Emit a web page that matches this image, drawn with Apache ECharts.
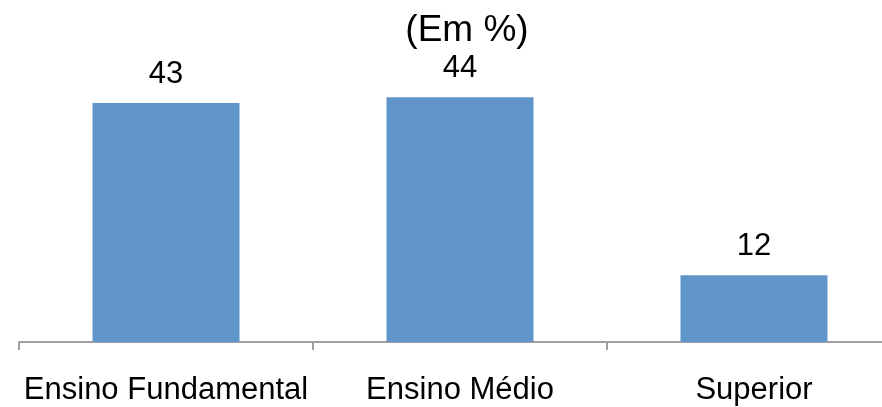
<!DOCTYPE html>
<html>
<head>
<meta charset="utf-8">
<script src="https://cdn.jsdelivr.net/npm/echarts@6/dist/echarts.min.js"></script>
<style>html,body{margin:0;padding:0;background:#fff;overflow:hidden;width:882px;height:407px;}#c{width:901px;height:407px;}</style>
</head>
<body>
<div id="c"></div>
<script>
const categories = ['Ensino Fundamental', 'Ensino Médio', 'Superior'];
const values = [43, 44, 12];
const titleText = '(Em %)';

const chart = echarts.init(document.getElementById('c'));
const font = '"Liberation Sans", Arial, sans-serif';
chart.setOption({
  animation: false,
  backgroundColor: '#ffffff',
  title: {
    text: titleText,
    left: 462,
    textAlign: 'center',
    top: 7,
    textStyle: { fontFamily: font, fontSize: 37, fontWeight: 'normal', color: '#000' }
  },
  grid: { left: 19, right: 0, top: 64, bottom: 65 },
  xAxis: {
    type: 'category',
    data: categories,
    axisLine: { lineStyle: { color: '#a0a0a0', width: 2 } },
    axisTick: { show: true, length: 8, lineStyle: { color: '#a0a0a0', width: 2 } },
    axisLabel: { interval: 0, fontFamily: font, fontSize: 31, color: '#000', margin: 33 }
  },
  yAxis: {
    type: 'value',
    min: 0,
    max: 50,
    show: false,
    splitLine: { show: false }
  },
  series: [{
    type: 'bar',
    data: values,
    barWidth: '50%',
    itemStyle: { color: '#6095c9' },
    label: {
      show: true,
      position: 'top',
      distance: 13,
      fontFamily: font,
      fontSize: 31,
      color: '#000'
    }
  }]
});
</script>
</body>
</html>
